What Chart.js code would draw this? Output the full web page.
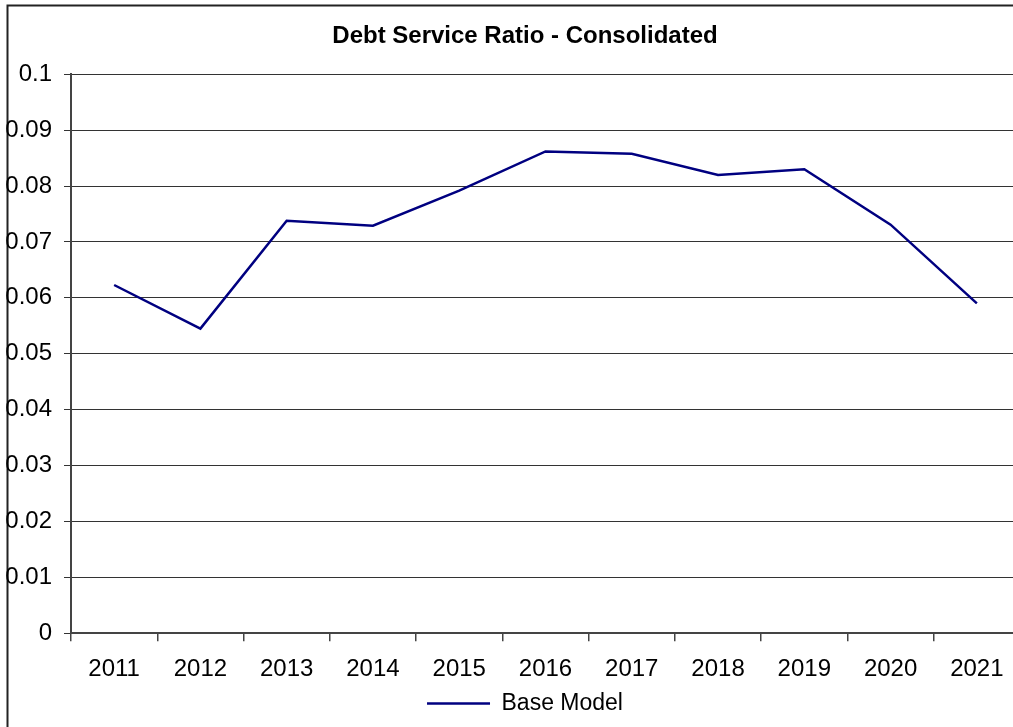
<!DOCTYPE html>
<html>
<head>
<meta charset="utf-8">
<title>Debt Service Ratio - Consolidated</title>
<script src="https://cdn.jsdelivr.net/npm/chart.js@4/dist/chart.umd.min.js"></script>
<style>
  html, body { margin: 0; padding: 0; background: #fff; overflow: hidden; }
  #wrap { position: absolute; left: 0; top: 0; width: 1050px; height: 727px; }
</style>
</head>
<body>
<div id="wrap"><canvas id="dsr"></canvas></div>
<script>
/* Debt Service Ratio — consolidated, base model */

const YEARS = ['2011', '2012', '2013', '2014', '2015', '2016', '2017', '2018', '2019', '2020', '2021'];
const BASE_MODEL = [0.0623, 0.0545, 0.0738, 0.0729, 0.0792, 0.0862, 0.0858, 0.0820, 0.0830, 0.0731, 0.0590];
const Y_MIN = 0, Y_MAX = 0.1, Y_STEP = 0.01;

const FONT = "'Liberation Sans', Arial, sans-serif";
const AXIS_GREY = '#444';

// outer frame of the chart object (runs off the right / bottom edge)
const framePlugin = {
  id: 'frame',
  beforeDraw(chart) {
    const cx = chart.ctx;
    cx.save();
    cx.strokeStyle = '#222';
    cx.lineWidth = 2;
    cx.beginPath();
    cx.moveTo(7.5, chart.height + 5);
    cx.lineTo(7.5, 5.5);
    cx.lineTo(chart.width + 5, 5.5);
    cx.stroke();
    cx.restore();
  }
};

new Chart(document.getElementById('dsr').getContext('2d'), {
  type: 'line',
  data: {
    labels: YEARS,
    datasets: [{
      label: 'Base Model',
      data: BASE_MODEL,
      borderColor: '#000080',
      backgroundColor: '#000080',
      borderWidth: 2.5,
      pointRadius: 0,
      pointHoverRadius: 0,
      tension: 0,
      fill: false
    }]
  },
  options: {
    responsive: true, maintainAspectRatio: false, animation: false,
    layout: { padding: { left: 0, right: 0, top: 0, bottom: 2 } },
    plugins: {
      title: {
        display: true,
        text: 'Debt Service Ratio - Consolidated',
        color: '#000',
        font: { family: FONT, size: 24, weight: 'bold' },
        padding: { top: 22, bottom: 23.5 }
      },
      legend: {
        position: 'bottom',
        labels: {
          color: '#000',
          font: { family: FONT, size: 23 },
          usePointStyle: true,
          pointStyle: 'line',
          pointStyleWidth: 63,
          padding: 0
        }
      },
      tooltip: { enabled: false }
    },
    scales: {
      x: {
        type: 'category',
        offset: true,
        grid: { offset: true, drawOnChartArea: false, drawTicks: true, tickLength: 8, color: AXIS_GREY, lineWidth: 1.5 },
        border: { color: AXIS_GREY, width: 2 },
        ticks: { color: '#000', font: { family: FONT, size: 24 }, padding: 14, maxRotation: 0, autoSkip: false },
        afterFit: s => { s.height -= 6; }
      },
      y: {
        min: Y_MIN, max: Y_MAX,
        ticks: {
          stepSize: Y_STEP,
          color: '#000',
          font: { family: FONT, size: 24 },
          padding: 12,
          callback: v => String(+v.toFixed(2))
        },
        grid: { color: '#333', lineWidth: 1, drawTicks: true, tickLength: 7 },
        border: { color: AXIS_GREY, width: 2 },
        afterFit: s => { s.width = 71; }
      },
      // empty right-hand spacer so the plot ends at the frame's clipped edge
      yRight: {
        position: 'right',
        display: true,
        grid: { display: false, drawOnChartArea: false },
        border: { display: false },
        ticks: { display: false },
        afterFit: s => { s.width = 30; }
      }
    }
  },
  plugins: [framePlugin]
});
</script>
</body>
</html>
